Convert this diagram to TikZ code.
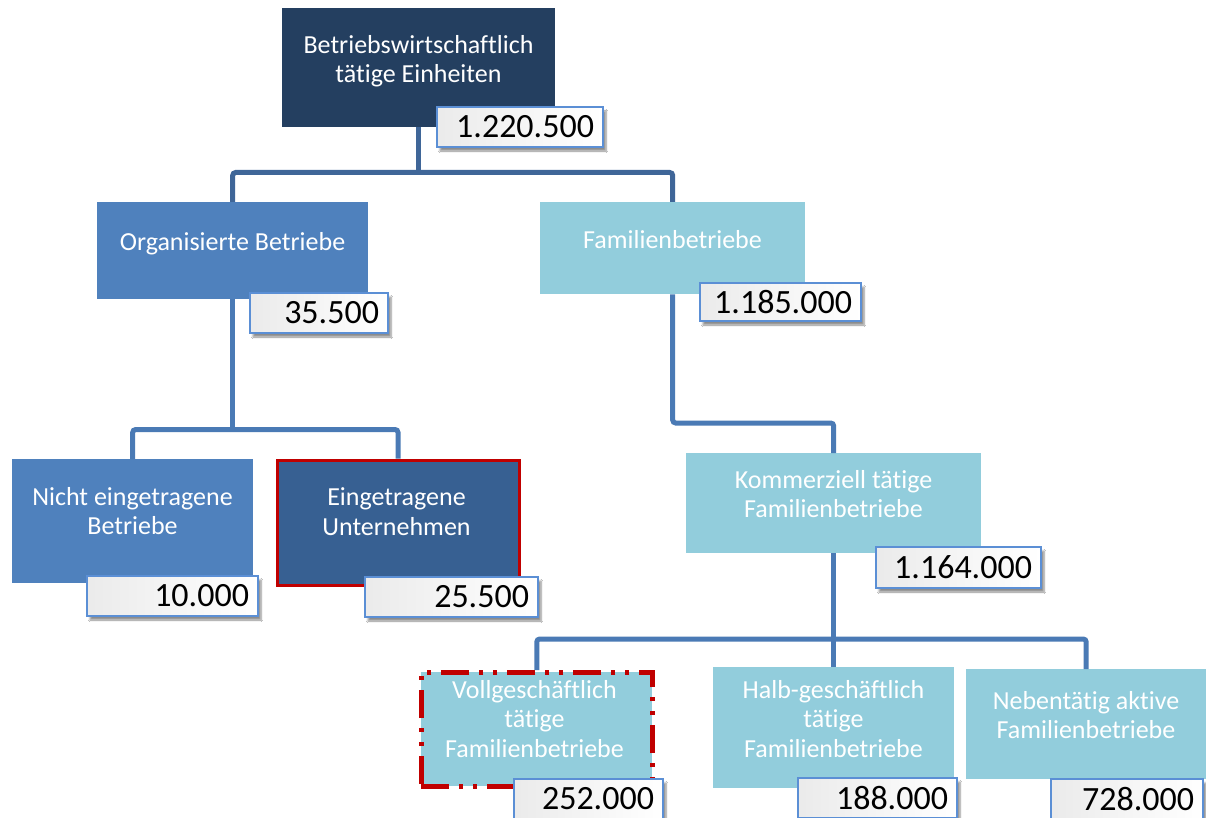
\documentclass[tikz,border=0pt]{standalone}
\usepackage{fontspec}
\setmainfont{Carlito}[Ligatures=NoCommon]
\usetikzlibrary{shadows.blur}
\definecolor{navy}{HTML}{243F60}
\definecolor{midblue}{HTML}{4F81BD}
\definecolor{darkblue}{HTML}{376092}
\definecolor{lightblue}{HTML}{92CDDC}
\definecolor{redline}{HTML}{C00000}
\definecolor{conncol}{HTML}{4A7AB5}
\definecolor{conntop}{HTML}{3F6698}
\definecolor{numborder}{HTML}{5B8FD5}
\begin{document}
\begin{tikzpicture}[x=1pt,y=-1pt,
  mainbox/.style={rectangle, inner sep=0pt, anchor=north west},
  boxlabel/.style={text=white, align=center, inner sep=0pt,
    font=\fontsize{26}{29.5}\selectfont},
  numbox/.style={rectangle, draw=numborder, line width=2pt,
    left color=black!8, right color=white, anchor=north west,
    inner xsep=9pt, inner ysep=0pt, align=right, minimum height=40pt,
    font=\fontsize{34}{40}\selectfont,
    blur shadow={shadow xshift=3pt, shadow yshift=-4pt,
      shadow blur steps=6, shadow opacity=45}},
  conn/.style={draw=conncol, line width=5pt, rounded corners=3pt},
  conntopstyle/.style={draw=conntop, line width=5pt, rounded corners=3pt}
]
\useasboundingbox (0,0) rectangle (1206,818);
\fill[white] (0,0) rectangle (1206,818);
\clip (0,0) rectangle (1206,818);

% bus levels
\coordinate (busA) at (0,172.5);
\coordinate (busB) at (0,429.5);
\coordinate (busC) at (0,423);
\coordinate (busD) at (0,639);

% main boxes (geometry)
\node[mainbox, fill=navy, minimum width=273pt, minimum height=119pt] (top) at (282,8) {};
\node[mainbox, fill=midblue, minimum width=271pt, minimum height=97pt] (org) at (97,202) {};
\node[mainbox, fill=lightblue, minimum width=265pt, minimum height=92pt] (fam) at (540,202) {};
\node[mainbox, fill=midblue, minimum width=241pt, minimum height=124pt] (nicht) at (12,459) {};
\node[mainbox, fill=darkblue, draw=redline, line width=3pt, minimum width=242pt, minimum height=125pt] (einget) at (275.5,458.5) {};
\node[mainbox, fill=lightblue, minimum width=295pt, minimum height=100pt] (komm) at (686,453) {};
\node[mainbox, fill=lightblue, minimum width=241pt, minimum height=121pt] (halb) at (713,667) {};
\node[mainbox, fill=lightblue, minimum width=240pt, minimum height=110pt] (neben) at (966,669) {};
\node[mainbox, fill=lightblue, draw=redline, line width=4.5pt,
  dash pattern=on 28pt off 10pt on 4pt off 10pt on 4pt off 10pt,
  minimum width=231pt, minimum height=114pt] (voll) at (419,670) {};

% connectors
\draw[conntopstyle] (top.south) -- (top.south |- busA);
\draw[conntopstyle] (org.north) |- (busA -| fam.north) -- (fam.north);
\draw[conn] (org.south) -- (org.south |- busB);
\draw[conn] (nicht.north) |- (busB -| einget.north) -- (einget.north);
\draw[conn] (fam.south) |- (busC -| komm.north) -- (komm.north);
\draw[conn] (komm.south) -- (komm.south |- busD);
\draw[conn] (voll.north) |- (busD -| neben.north) -- (neben.north);
\draw[conn] (halb.north) -- (halb.north |- busD);

% box texts
\node[boxlabel] (topT) at (418.5,61) {Betriebswirtschaftlich\\tätige Einheiten};
\node[boxlabel] (orgT) at (232.5,244) {Organisierte Betriebe};
\node[boxlabel] (famT) at (672.5,240) {Familienbetriebe};
\node[boxlabel] (nichtT) at (132.5,511) {Nicht eingetragene\\Betriebe};
\node[boxlabel] (eingetT) at (396.5,511.5) {Eingetragene\\Unternehmen};
\node[boxlabel] (kommT) at (833.5,494) {Kommerziell tätige\\Familienbetriebe};
\node[boxlabel] (vollT) at (534.5,719) {Vollgeschäftlich\\tätige\\Familienbetriebe};
\node[boxlabel] (halbT) at (833.5,719) {Halb-geschäftlich\\tätige\\Familienbetriebe};
\node[boxlabel] (nebenT) at (1086,715) {Nebentätig aktive\\Familienbetriebe};

% number boxes
\node[numbox, text width=148pt] (n1) at (436,106) {1.220.500};
\node[numbox, text width=120pt] (n2) at (249,292) {35.500};
\node[numbox, text width=143pt, minimum height=38pt] (n3) at (699,282) {1.185.000};
\node[numbox, text width=153pt] (n4) at (86,575) {10.000};
\node[numbox, text width=155pt] (n5) at (364,576) {25.500};
\node[numbox, text width=147pt, minimum height=41pt] (n6) at (875,546) {1.164.000};
\node[numbox, text width=131pt] (n7) at (513,778) {252.000};
\node[numbox, text width=141pt] (n8) at (797,777) {188.000};
\node[numbox, text width=134pt] (n9) at (1050,778) {728.000};
\end{tikzpicture}
\end{document}
